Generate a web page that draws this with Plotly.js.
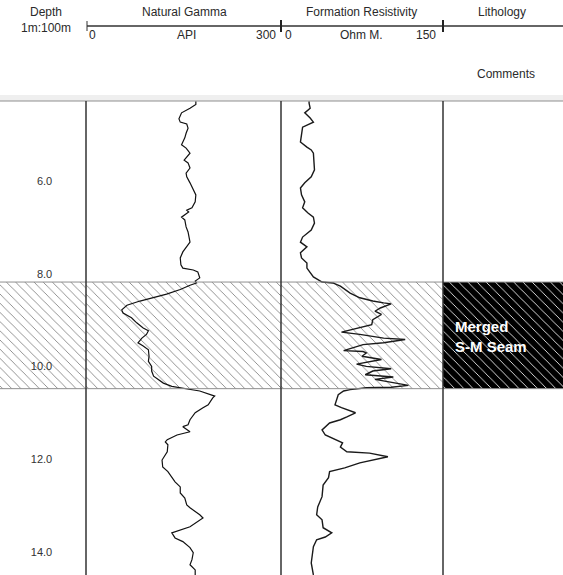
<!DOCTYPE html>
<html>
<head>
<meta charset="utf-8">
<script src="https://cdn.plot.ly/plotly-3.0.1.min.js"></script>
<style>html,body{margin:0;padding:0;background:#fff;}#chart{width:563px;height:575px;}</style>
</head>
<body>
<div id="chart"></div>
<script>
const depthTicks = [6, 8, 10, 12, 14];

const gammaDepth = [4.28,4.35,4.43,4.53,4.66,4.73,4.77,4.86,4.97,5.07,5.22,5.29,5.40,5.48,5.55,5.61,5.72,5.83,5.91,6.04,6.19,6.30,6.45,6.58,6.63,6.67,6.78,6.84,6.99,7.10,7.32,7.42,7.53,7.66,7.81,7.88,7.92,7.96,8.09,8.16,8.20,8.25,8.34,8.44,8.51,8.59,8.68,8.78,8.85,8.95,9.06,9.17,9.23,9.31,9.39,9.49,9.56,9.64,9.78,9.89,10.00,10.10,10.21,10.28,10.36,10.43,10.49,10.53,10.64,10.68,10.83,10.89,11.00,11.15,11.26,11.30,11.41,11.48,11.58,11.63,11.69,11.84,12.02,12.17,12.27,12.40,12.49,12.60,12.73,12.84,12.99,13.05,13.20,13.27,13.46,13.59,13.70,13.78,13.91,14.02,14.17,14.28,14.39,14.50];
const gammaAPI = [169,169,160,147,143,145,155,157,154,152,147,154,160,155,151,157,160,154,155,160,165,169,168,163,155,158,147,152,154,157,160,155,149,145,146,149,165,172,175,168,170,160,145,124,104,83,63,55,57,70,78,88,96,93,86,80,88,96,97,96,101,101,104,111,119,132,155,175,198,195,188,180,168,160,157,149,160,140,125,122,126,125,117,118,126,132,137,145,145,152,155,160,175,180,160,132,137,149,160,165,163,160,168,168];

const resDepth = [4.28,4.32,4.43,4.53,4.64,4.73,4.84,5.01,5.16,5.27,5.33,5.40,5.76,5.91,6.04,6.15,6.30,6.45,6.58,6.69,6.78,6.91,7.06,7.21,7.32,7.42,7.55,7.66,7.77,7.88,8.07,8.18,8.20,8.27,8.42,8.52,8.59,8.63,8.65,8.74,8.81,8.88,8.99,9.10,9.17,9.26,9.31,9.39,9.42,9.49,9.53,9.60,9.66,9.68,9.71,9.78,9.85,9.95,10.00,10.05,10.10,10.18,10.23,10.28,10.36,10.41,10.45,10.46,10.50,10.53,10.61,10.83,10.89,11.00,11.09,11.15,11.22,11.37,11.48,11.58,11.65,11.74,11.84,11.87,11.95,12.08,12.19,12.27,12.40,12.56,12.81,13.03,13.20,13.31,13.48,13.59,13.68,13.74,13.89,14.24,14.50];
const resOhm = [26,26,27,22,27,30,20,19,18,24,28,30,31,28,22,18,19,22,20,25,30,31,28,20,18,24,18,19,24,24,30,38,48,55,64,73,85,95,102,92,87,93,85,84,72,56,73,95,115,95,76,67,58,76,79,75,93,70,79,102,85,78,104,87,106,118,102,79,64,58,53,50,56,69,61,55,45,38,41,50,57,55,61,82,99,73,59,45,44,39,38,34,33,38,39,47,41,33,30,28,30];

const seamTop = 8.18;
const seamBase = 10.48;
const lithLabel = 'Merged<br>S-M Seam';

const gammaRange = [0, 300];
const resRange = [0, 150];
const depthRange = [14.5, 4.275];

// ---- Layout helpers (pixel -> paper) ----
const W = 563, H = 575;
const px = v => v / W;
const py = v => (H - v) / H;
const FONT = 'Liberation Sans, Arial, sans-serif';

function hatch(xa, x0, x1, fg, bg) {
  return {
    type: 'scatter', mode: 'lines', xaxis: xa, yaxis: 'y',
    x: [x0, x1, x1, x0, x0],
    y: [seamTop, seamTop, seamBase, seamBase, seamTop],
    fill: 'toself', line: {width: 0}, hoverinfo: 'skip',
    fillcolor: bg,
    fillpattern: {shape: '\\', size: 6.5, solidity: 0.14, fgcolor: fg, bgcolor: bg, fillmode: 'replace'}
  };
}

const traces = [
  hatch('x4', 0, 1, '#8a8a8a', '#ffffff'),
  hatch('x', gammaRange[0], gammaRange[1], '#8a8a8a', '#ffffff'),
  hatch('x2', resRange[0], resRange[1], '#8a8a8a', '#ffffff'),
  hatch('x3', 0, 1, '#e8e8e8', '#000000'),
  {type: 'scatter', mode: 'lines', xaxis: 'x', yaxis: 'y', x: gammaAPI, y: gammaDepth,
   line: {color: '#111', width: 1.2}, hoverinfo: 'skip'},
  {type: 'scatter', mode: 'lines', xaxis: 'x2', yaxis: 'y', x: resOhm, y: resDepth,
   line: {color: '#1a1a1a', width: 1.4}, hoverinfo: 'skip'}
];

const hidden = {visible: false, fixedrange: true};
const plotTop = 0.8243;

const shapes = [
  {type: 'rect', xref: 'paper', yref: 'paper', x0: 0, x1: 1, y0: py(101), y1: py(95), fillcolor: '#efefef', line: {width: 0}, layer: 'below'},
  {type: 'line', xref: 'paper', yref: 'paper', x0: 0, x1: 1, y0: py(101), y1: py(101), line: {color: '#8f8f8f', width: 1}},
  {type: 'line', xref: 'paper', yref: 'y', x0: 0, x1: 1, y0: seamTop, y1: seamTop, line: {color: '#8f8f8f', width: 1}},
  {type: 'line', xref: 'paper', yref: 'y', x0: 0, x1: 1, y0: seamBase, y1: seamBase, line: {color: '#8f8f8f', width: 1}},
  {type: 'line', xref: 'paper', yref: 'paper', x0: px(86), x1: px(86), y0: 0, y1: py(101), line: {color: '#333', width: 1.5}},
  {type: 'line', xref: 'paper', yref: 'paper', x0: px(281), x1: px(281), y0: 0, y1: py(101), line: {color: '#333', width: 1.5}},
  {type: 'line', xref: 'paper', yref: 'paper', x0: px(443), x1: px(443), y0: 0, y1: py(101), line: {color: '#333', width: 1.5}},
  // header scale bar
  {type: 'line', xref: 'paper', yref: 'paper', x0: px(87), x1: 1, y0: py(26), y1: py(26), line: {color: '#333', width: 1.3}},
  {type: 'line', xref: 'paper', yref: 'paper', x0: px(87), x1: px(87), y0: py(21), y1: py(31), line: {color: '#333', width: 1}},
  {type: 'line', xref: 'paper', yref: 'paper', x0: px(281), x1: px(281), y0: py(20), y1: py(32), line: {color: '#222', width: 2}},
  {type: 'line', xref: 'paper', yref: 'paper', x0: px(443), x1: px(443), y0: py(20), y1: py(32), line: {color: '#222', width: 2}}
];

function hdr(text, x, y, size) {
  return {text: text, xref: 'paper', yref: 'paper', x: px(x), y: py(y), xanchor: 'center', yanchor: 'middle',
          showarrow: false, font: {family: FONT, size: size || 12, color: '#2a2a2a'}};
}

const annotations = [
  hdr('Depth', 45.5, 12.5), hdr('Natural Gamma', 184, 12.5), hdr('Formation Resistivity', 361.5, 12.5), hdr('Lithology', 502, 12.5),
  hdr('1m:100m', 45.5, 28), hdr('0', 92.5, 35), hdr('API', 186.5, 35), hdr('300', 265.5, 35),
  hdr('0', 288, 35), hdr('Ohm M.', 361, 35), hdr('150', 425.5, 35), hdr('Comments', 506, 73.5),
  {text: '<b>' + lithLabel + '</b>', xref: 'paper', yref: 'y', x: px(453), y: (seamTop + seamBase) / 2 + 0.02,
   xanchor: 'left', yanchor: 'middle', align: 'left', showarrow: false,
   font: {family: FONT, size: 15, color: '#ffffff'}}
];

const layout = {
  width: W, height: H,
  margin: {l: 0, r: 0, t: 0, b: 0, pad: 0},
  paper_bgcolor: '#ffffff', plot_bgcolor: 'rgba(0,0,0,0)',
  showlegend: false,
  xaxis: Object.assign({domain: [px(86), px(281)], range: gammaRange}, hidden),
  xaxis2: Object.assign({domain: [px(281), px(443)], range: resRange}, hidden),
  xaxis3: Object.assign({domain: [px(443), 1], range: [0, 1]}, hidden),
  xaxis4: Object.assign({domain: [0, px(86)], range: [0, 1]}, hidden),
  yaxis: {
    domain: [0, plotTop], range: depthRange, anchor: 'x4', side: 'right',
    tickvals: depthTicks, tickformat: '.1f',
    ticks: 'inside', ticklen: 33, tickcolor: 'rgba(0,0,0,0)',
    ticklabelposition: 'inside', layer: 'above traces',
    showgrid: false, zeroline: false, showline: false, fixedrange: true,
    tickfont: {family: FONT, size: 11, color: '#333'}
  },
  shapes: shapes,
  annotations: annotations
};

Plotly.newPlot('chart', traces, layout, {staticPlot: true, displayModeBar: false});
</script>
</body>
</html>
